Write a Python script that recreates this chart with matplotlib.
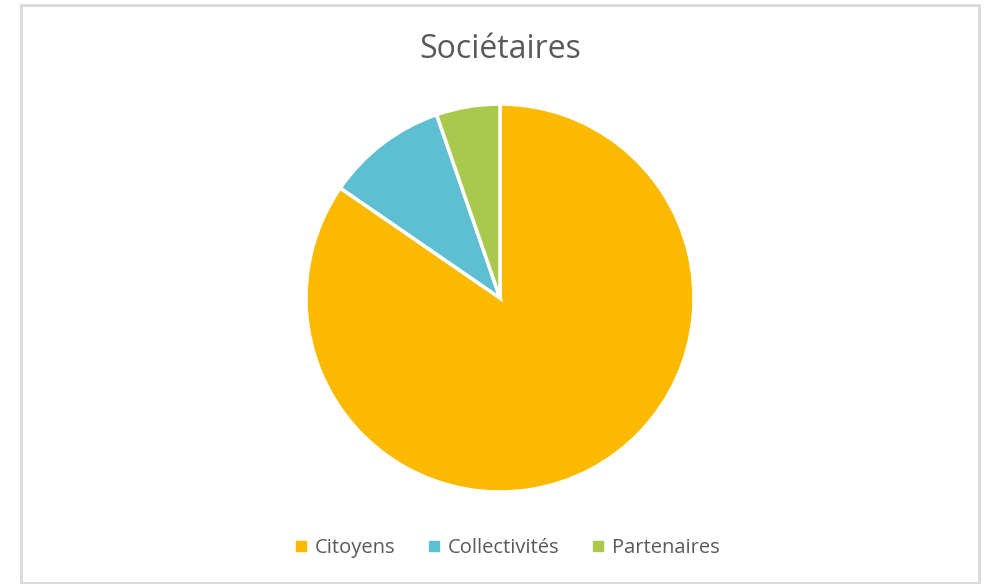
import matplotlib
matplotlib.use('Agg')
from matplotlib import pyplot as plt
from matplotlib.patches import Rectangle
from matplotlib.lines import Line2D

labels = ['Citoyens', 'Collectivités', 'Partenaires']
values = [84.6, 10.1, 5.3]
colors = ['#FBBA00', '#5EBFD2', '#A9C84C']

plt.rcParams['font.family'] = ['Open Sans', 'DejaVu Sans']

fig = plt.figure(figsize=(9.87, 5.84), dpi=100)
ax = fig.add_axes([0, 0, 1, 1])
ax.set_xlim(0, 987)
ax.set_ylim(0, 584)
ax.set_aspect('equal')
ax.axis('off')

# chart frame
ax.add_patch(Rectangle((21, 1), 958, 578, fill=False, edgecolor='#d9d9d9', linewidth=2))

ax.pie(values, colors=colors, startangle=90, counterclock=False,
       center=(500, 286), radius=194,
       wedgeprops=dict(edgecolor='white', linewidth=2.5))
ax.set_xlim(0, 987)
ax.set_ylim(0, 584)

ax.text(500, 534, 'Sociétaires', ha='center', va='center', fontsize=23, color='#595959')

handles = [Line2D([], [], marker='s', linestyle='', markersize=7, color=c) for c in colors]
leg = ax.legend(handles, labels, loc='center', bbox_to_anchor=(505 / 987, 36 / 584),
                ncol=3, frameon=False, fontsize=14.5, handletextpad=0.2, columnspacing=1.4,
                handlelength=1.0)
for t in leg.get_texts():
    t.set_color('#595959')

fig.savefig('out.png', dpi=100)
